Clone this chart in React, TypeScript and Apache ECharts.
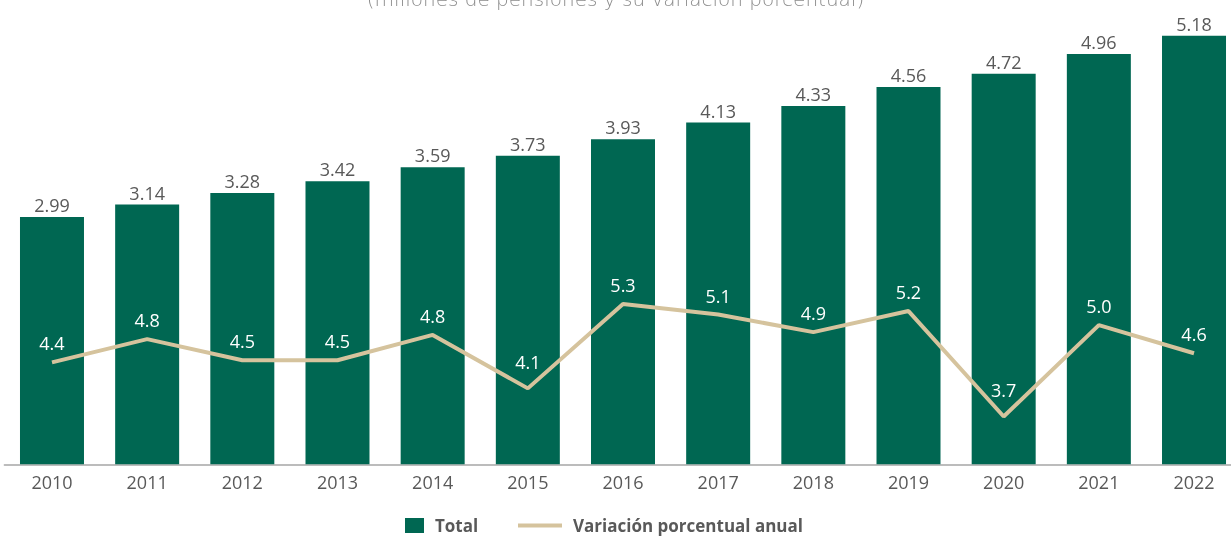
import React, { useEffect, useRef } from "react";
import * as echarts from "echarts";

const years = ["2010", "2011", "2012", "2013", "2014", "2015", "2016", "2017", "2018", "2019", "2020", "2021", "2022"];
const totals = [2.99, 3.14, 3.28, 3.42, 3.59, 3.73, 3.93, 4.13, 4.33, 4.56, 4.72, 4.96, 5.18];
const variation = [4.47, 4.8, 4.5, 4.5, 4.86, 4.1, 5.3, 5.15, 4.9, 5.2, 3.7, 5.0, 4.6];
const subtitle = "(millones de pensiones y su variación porcentual)";
const seriesNames = ["Total", "Variación porcentual anual"];

const FONT = "'Open Sans', 'Noto Sans', sans-serif";
const GREEN = "#006752";
const BEIGE = "#D5C39D";
const GRAY = "#595959";

export default function App() {
  const ref = useRef<HTMLDivElement>(null);
  useEffect(() => {
    if (!ref.current) return;
    const chart = echarts.init(ref.current, undefined, { renderer: "svg" });
    const lineData = variation.map((v) => {
      const low = v < 4.2;
      return {
        value: v,
        label: { distance: low ? 17 : 10 },
      };
    });
    const legendText = {
      color: GRAY,
      fontSize: 17,
      lineHeight: 17,
      fontWeight: "bold",
      fontFamily: FONT,
      padding: [0, 0, 0, 6],
    };
    chart.setOption({
      animation: false,
      textStyle: { fontFamily: FONT },
      graphic: [
        {
          type: "text",
          left: "center",
          top: -11,
          style: {
            text: subtitle,
            fill: "#8c8c8c",
            fontFamily: "'DejaVu Sans', sans-serif",
            fontSize: 20,
            fontWeight: 200,
          },
        },
      ],
      legend: [
        {
          data: [{ name: seriesNames[0], icon: "rect" }],
          left: 405,
          top: 517,
          padding: 0,
          itemWidth: 19,
          itemHeight: 15,
          textStyle: legendText,
        },
        {
          data: [{ name: seriesNames[1], icon: "rect" }],
          left: 518,
          top: 517,
          padding: 0,
          itemWidth: 44,
          itemHeight: 4,
          textStyle: legendText,
        },
      ],
      grid: {
        left: 4.4,
        width: 1237.2,
        top: 1,
        bottom: 71.7,
        containLabel: false,
        outerBoundsMode: "none",
      },
      xAxis: {
        type: "category",
        data: years,
        axisLine: { lineStyle: { color: "#a6a6a6", width: 1.5 } },
        axisTick: { show: false },
        axisLabel: { color: GRAY, fontSize: 18, margin: 9, fontFamily: FONT },
      },
      yAxis: [
        { type: "value", min: 0, max: 5.6, show: false, splitLine: { show: false } },
        { type: "value", min: 3.02, max: 9.61, show: false, splitLine: { show: false } },
      ],
      series: [
        {
          name: seriesNames[0],
          type: "bar",
          data: totals,
          barWidth: 64,
          itemStyle: { color: GREEN },
          label: {
            show: true,
            position: "top",
            distance: 3,
            color: GRAY,
            fontSize: 18,
            fontFamily: FONT,
            formatter: (p: any) => Number(p.value).toFixed(2),
          },
        },
        {
          name: seriesNames[1],
          type: "line",
          yAxisIndex: 1,
          data: lineData,
          symbol: "circle",
          symbolSize: 0,
          showSymbol: true,
          lineStyle: { color: BEIGE, width: 4 },
          itemStyle: { color: BEIGE },
          label: {
            show: true,
            position: "top",
            color: "#ffffff",
            fontSize: 18,
            fontFamily: FONT,
            formatter: (p: any) => (Math.floor(Number(p.value) * 10 + 1e-6) / 10).toFixed(1),
          },
        },
      ],
    });
    return () => chart.dispose();
  }, []);
  return (
    <div
      ref={ref}
      style={{ position: "fixed", left: 0, top: 0, width: 1231, height: 536 }}
    />
  );
}
